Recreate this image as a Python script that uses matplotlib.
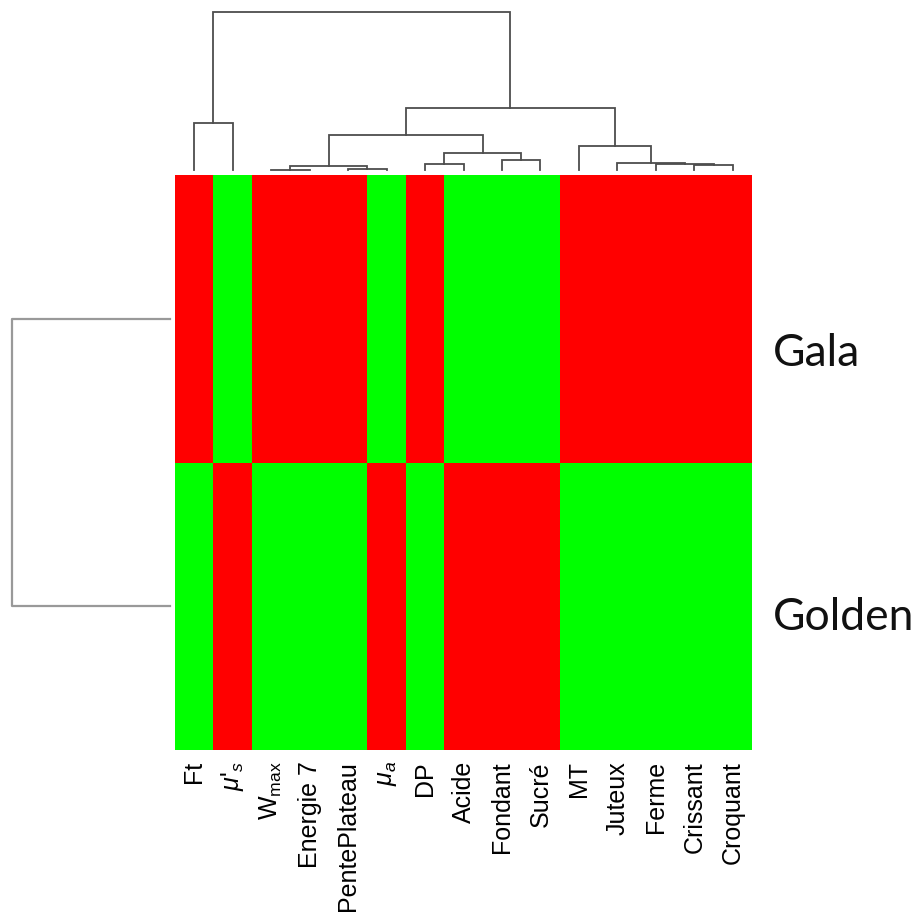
import matplotlib
matplotlib.use('Agg')
import matplotlib.pyplot as plt
import numpy as np
from matplotlib.colors import ListedColormap

plt.rcParams['font.family'] = ['Liberation Sans', 'DejaVu Sans']
plt.rcParams['mathtext.fontset'] = 'custom'
plt.rcParams['mathtext.rm'] = 'Liberation Sans'
plt.rcParams['mathtext.it'] = 'Liberation Sans:italic'

# columns (attributes), in dendrogram order
col_labels = ['Ft', r"$\mu$'$_{s}$", r'W$_{\mathrm{max}}$', 'Energie 7', 'PentePlateau',
              r'$\mu_a$', 'DP', 'Acide', 'Fondant', 'Sucré', 'MT', 'Juteux',
              'Ferme', 'Crissant', 'Croquant']
row_labels = ['Gala', 'Golden']

# +1 = high (red), -1 = low (green)
gala = [1, -1, 1, 1, 1, -1, 1, -1, -1, -1, 1, 1, 1, 1, 1]
golden = [-1, 1, -1, -1, -1, 1, -1, 1, 1, 1, -1, -1, -1, -1, -1]

# column linkage: (child a, child b, height); new cluster ids start at 15
col_linkage = [
    (2, 3, 0.3),
    (4, 5, 1.2),
    (15, 16, 4.0),
    (6, 7, 5.7),
    (8, 9, 10.0),
    (18, 19, 16.7),
    (17, 20, 35.0),
    (13, 14, 5.5),
    (12, 22, 6.3),
    (11, 23, 7.0),
    (10, 24, 24.0),
    (21, 25, 61.7),
    (0, 1, 47.3),
    (27, 26, 157.7),
]
# row linkage: Gala + Golden
row_linkage = [(0, 1, 1.0)]


def dendro_segments(linkage, n):
    pos = {i: (i + 0.5, 0.0) for i in range(n)}
    segs = []
    for k, (a, b, h) in enumerate(linkage):
        xa, ha = pos[a]
        xb, hb = pos[b]
        segs.append(([xa, xa, xb, xb], [ha, h, h, hb]))
        pos[n + k] = ((xa + xb) / 2, h)
    return segs


W, H = 919, 917
fig = plt.figure(figsize=(W / 100, H / 100), dpi=100)

# heatmap
hm_l, hm_r, hm_t, hm_b = 175, 752, 175, 750
ax = fig.add_axes([hm_l / W, 1 - hm_b / H, (hm_r - hm_l) / W, (hm_b - hm_t) / H])
data = np.array([gala, golden])
cmap = ListedColormap(['#00ff00', '#ff0000'])
ax.pcolormesh(data, cmap=cmap, vmin=-1, vmax=1, antialiased=False, edgecolors='none')
ax.set_xlim(0, len(col_labels))
ax.set_ylim(len(row_labels), 0)
for s in ax.spines.values():
    s.set_visible(False)
ax.set_xticks(np.arange(len(col_labels)) + 0.5)
ax.set_xticklabels(col_labels, rotation=90, fontsize=18)
ax.tick_params(axis='x', length=0, pad=8)
ax.set_yticks([])
row_nudge = [0.12, 0.04]
for i, lab in enumerate(row_labels):
    ax.text(len(col_labels) + 0.55, i + 0.5 + row_nudge[i], lab, family='Lato',
            fontsize=32, ha='left', va='center', color='#111111', clip_on=False)

# top (column) dendrogram
top_base, top_peak = 170, 12.3
axd = fig.add_axes([hm_l / W, 1 - top_base / H, (hm_r - hm_l) / W, (top_base - top_peak) / H])
for xs, ys in dendro_segments(col_linkage, len(col_labels)):
    axd.plot(xs, ys, color='#4d4d4d', lw=1.3, clip_on=False, solid_joinstyle='miter')
axd.set_xlim(0, len(col_labels))
axd.set_ylim(0, max(h for _, _, h in col_linkage))
axd.axis('off')

# left (row) dendrogram
left_peak, left_base = 12, 170
axr = fig.add_axes([left_peak / W, 1 - hm_b / H, (left_base - left_peak) / W, (hm_b - hm_t) / H])
for xs, ys in dendro_segments(row_linkage, len(row_labels)):
    axr.plot(ys, xs, color='#999999', lw=1.6, clip_on=False)
axr.set_xlim(max(h for _, _, h in row_linkage), 0)
axr.set_ylim(len(row_labels), 0)
axr.axis('off')

fig.savefig('out.png', dpi=100)
